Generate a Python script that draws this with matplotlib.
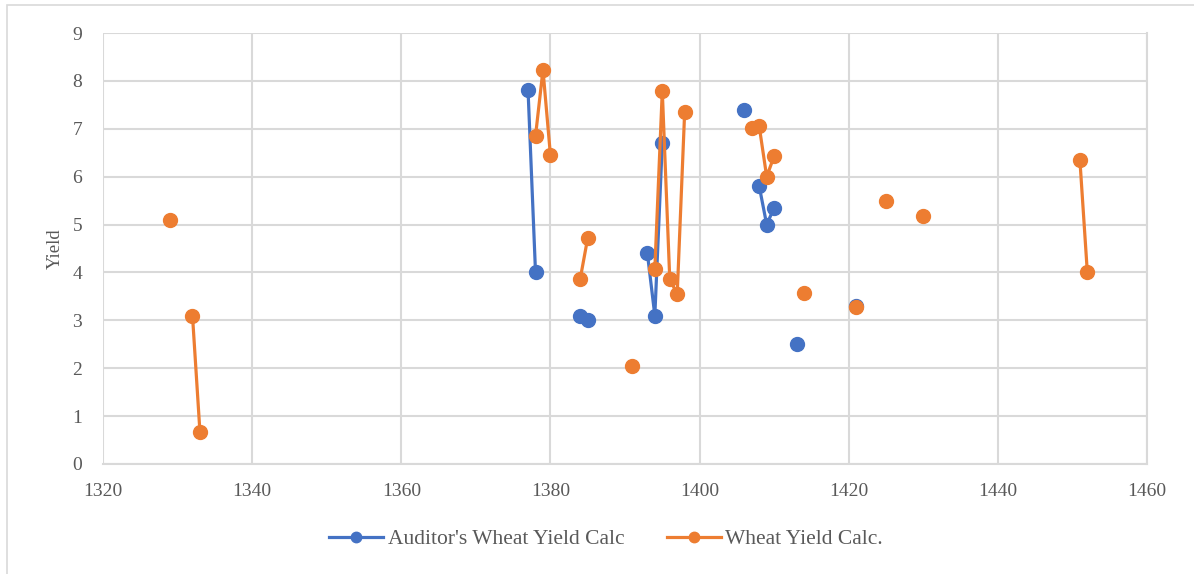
import numpy as np
import matplotlib.pyplot as plt
from matplotlib.patches import Rectangle

# Yield by year; None marks a break in the line
auditor_years = [1377, 1378, None, 1384, 1385, None, 1393, 1394, 1395, None,
                 1406, None, 1408, 1409, 1410, None, 1413, None, 1421]
auditor_yield = [7.8, 4.0, None, 3.1, 3.0, None, 4.4, 3.1, 6.7, None,
                 7.4, None, 5.8, 5.0, 5.35, None, 2.5, None, 3.3]

calc_years = [1329, None, 1332, 1333, None, 1378, 1379, 1380, None, 1384, 1385, None,
              1391, None, 1394, 1395, 1396, 1397, 1398, None, 1407, 1408, 1409, 1410, None,
              1414, None, 1421, None, 1425, None, 1430, None, 1451, 1452]
calc_yield = [5.1, None, 3.1, 0.67, None, 6.85, 8.23, 6.45, None, 3.87, 4.72, None,
              2.05, None, 4.07, 7.79, 3.87, 3.54, 7.35, None, 7.01, 7.05, 6.0, 6.43, None,
              3.57, None, 3.28, None, 5.5, None, 5.18, None, 6.35, 4.0]

blue = "#4472C4"
orange = "#ED7D31"
grey_text = "#595959"
grid = "#D9D9D9"

plt.rcParams['font.family'] = ['Liberation Serif', 'DejaVu Serif']

fig = plt.figure(figsize=(11.94, 5.74), dpi=100)
fig.patches.append(Rectangle((7 / 1194, -0.1), 1.2, 1 - 5 / 574 + 0.1,
                             transform=fig.transFigure, fill=False,
                             edgecolor=grid, linewidth=1.2))

ax = fig.add_axes([103 / 1194, 1 - 464 / 574, 1044 / 1194, 431 / 574])

ax.plot(np.array(auditor_years, dtype=float), np.array(auditor_yield, dtype=float),
        color=blue, lw=2.3, marker="o", ms=10, label="Auditor's Wheat Yield Calc", zorder=3)
ax.plot(np.array(calc_years, dtype=float), np.array(calc_yield, dtype=float),
        color=orange, lw=2.3, marker="o", ms=10, label="Wheat Yield Calc.", zorder=4)

ax.set_xlim(1320, 1460)
ax.set_ylim(0, 9)
ax.set_xticks(range(1320, 1461, 20))
ax.set_yticks(range(0, 10))
ax.grid(True, color=grid, lw=1.5)
ax.set_axisbelow(True)
for side in ["top", "left"]:
    ax.spines[side].set_visible(False)
for side in ["bottom", "right"]:
    ax.spines[side].set_color(grid)
    ax.spines[side].set_linewidth(1.5)
ax.tick_params(length=0, labelsize=14, colors=grey_text)
ax.tick_params(axis="x", pad=14)
ax.tick_params(axis="y", pad=15)
ax.set_ylabel("Yield", fontsize=13.5, color=grey_text, labelpad=6)

ax.legend(loc="center", bbox_to_anchor=(0.482, -0.175), ncol=2, frameon=False,
          fontsize=15.5, labelcolor=grey_text, handlelength=2.5, columnspacing=1.95,
          handletextpad=0.23, markerscale=0.75)

fig.savefig("out.png", dpi=100)
